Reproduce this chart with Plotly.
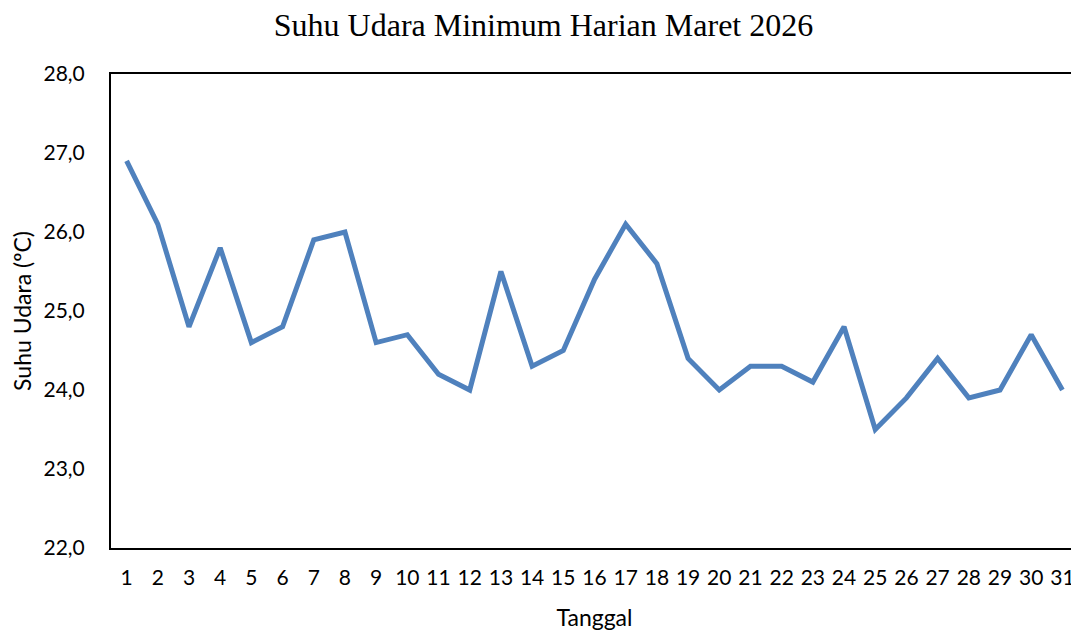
import plotly.graph_objects as go

tanggal = list(range(1, 32))
suhu_min = [26.9, 26.1, 24.8, 25.8, 24.6, 24.8, 25.9, 26.0, 24.6, 24.7,
            24.2, 24.0, 25.5, 24.3, 24.5, 25.4, 26.1, 25.6, 24.4, 24.0,
            24.3, 24.3, 24.1, 24.8, 23.5, 23.9, 24.4, 23.9, 24.0, 24.7, 24.0]
y_ticks = [22, 23, 24, 25, 26, 27, 28]

fig = go.Figure()
fig.add_trace(go.Scatter(
    x=tanggal, y=suhu_min, mode="lines",
    line=dict(color="#4F81BD", width=5),
    showlegend=False,
))

tick_font = dict(family="Lato, Open Sans, sans-serif", size=21, color="#000000")
title_font = dict(family="Lato, Open Sans, sans-serif", size=23, color="#000000")

# page body has an 8px margin, so the figure is shrunk by 8px and margins reduced
fig.update_layout(
    width=1071, height=624, autosize=False,
    paper_bgcolor="white", plot_bgcolor="white",
    separators=",.",
    margin=dict(l=103, r=1, t=66, b=84, autoexpand=False),
    title=dict(
        text="Suhu Udara Minimum Harian Maret 2026",
        font=dict(family="Liberation Serif, Times New Roman, serif", size=32, color="#000000"),
        x=0.5, xanchor="center", y=1 - 17 / 624, yanchor="middle",
    ),
    xaxis=dict(
        range=[0.5, 31.5], tickmode="array", tickvals=tanggal,
        ticktext=[str(t) for t in tanggal],
        showgrid=False, zeroline=False, automargin=False,
        showline=True, linecolor="#000000", linewidth=2, mirror=True,
        ticks="", tickfont=tick_font, ticklabelstandoff=10,
        title=dict(text="Tanggal", font=title_font, standoff=22),
    ),
    yaxis=dict(
        range=[22, 28], tickmode="array", tickvals=y_ticks, tickformat=".1f",
        showgrid=False, zeroline=False, automargin=False,
        showline=True, linecolor="#000000", linewidth=2, mirror=True,
        ticks="", tickfont=tick_font, ticklabelstandoff=20,
        title=dict(text="Suhu Udara (ºC)", font=title_font, standoff=10),
    ),
)

fig.write_html(
    "out.html",
    config={"responsive": False},
    post_script="document.documentElement.style.overflow='hidden';document.body.style.overflow='hidden';",
)
